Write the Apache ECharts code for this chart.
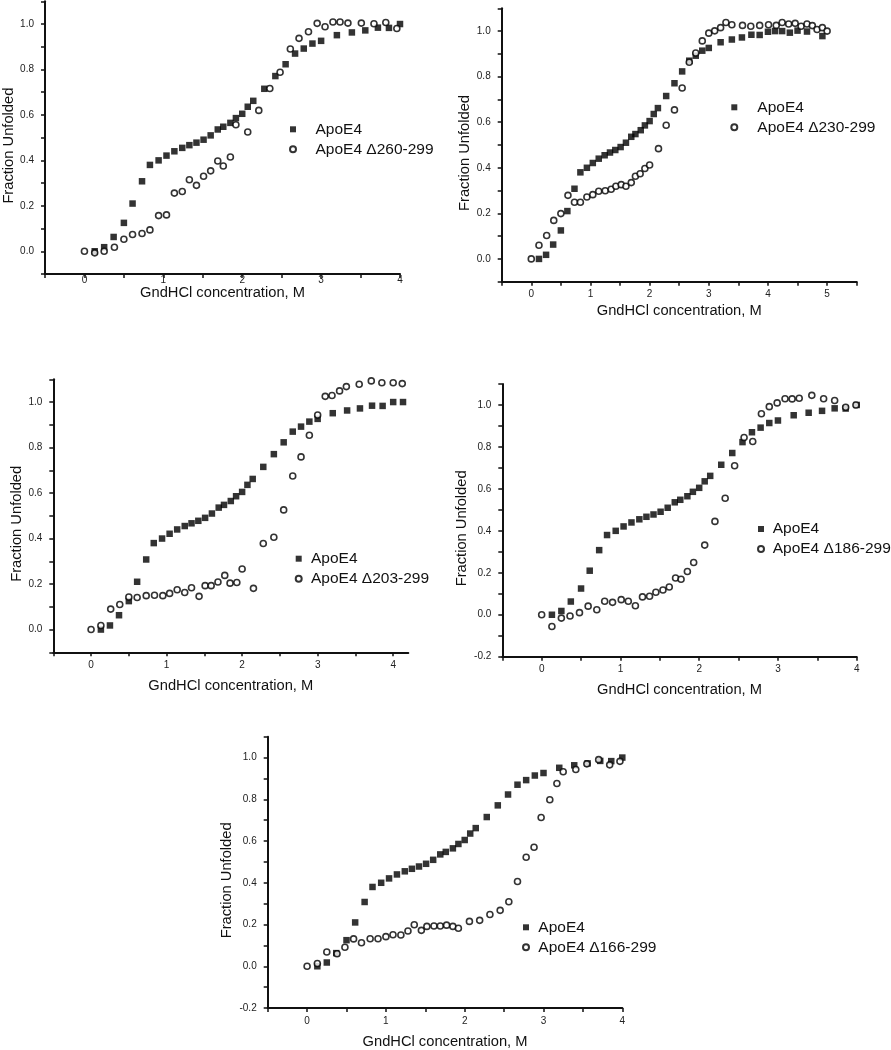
<!DOCTYPE html>
<html><head><meta charset="utf-8">
<script src="https://cdn.jsdelivr.net/npm/echarts@6/dist/echarts.min.js"></script>
<style>html,body{margin:0;padding:0;background:#fff}#c{width:891px;height:1050px}</style>
</head><body><div id="c"></div>
<script>
// ---------------- DATA ----------------
const xTitle = 'GndHCl concentration, M';
const yTitle = 'Fraction Unfolded';
const wtName = 'ApoE4';
const mutNames = ['ApoE4 \u0394260-299', 'ApoE4 \u0394230-299', 'ApoE4 \u0394203-299', 'ApoE4 \u0394186-299', 'ApoE4 \u0394166-299'];

// ApoE4 (full length) - common curve
const apoE4X = [0.13,0.25,0.37,0.50,0.61,0.73,0.83,0.94,1.04,1.14,1.24,1.33,1.42,1.51,1.60,1.69,1.76,1.85,1.92,2.00,2.07,2.14,2.28,2.42,2.55,2.67,2.78,2.89,3.00,3.20,3.39,3.56,3.72,3.86,4.00];
const apoE4Y = [0.000,0.018,0.063,0.125,0.210,0.308,0.380,0.400,0.421,0.440,0.455,0.467,0.478,0.491,0.510,0.536,0.548,0.565,0.586,0.605,0.636,0.662,0.715,0.771,0.823,0.870,0.892,0.914,0.926,0.951,0.963,0.972,0.984,0.983,1.000];
// ApoE4 in panel B (extended to 5 M)
const apoE4X_B = [0.13,0.25,0.37,0.50,0.61,0.73,0.83,0.94,1.04,1.14,1.24,1.33,1.42,1.51,1.60,1.69,1.76,1.85,1.92,2.00,2.07,2.14,2.28,2.42,2.55,2.67,2.78,2.89,3.00,3.20,3.39,3.56,3.72,3.86,4.00,4.12,4.24,4.37,4.50,4.66,4.92];
const apoE4Y_B = [0.000,0.018,0.063,0.125,0.210,0.308,0.380,0.400,0.421,0.440,0.455,0.467,0.478,0.491,0.510,0.536,0.548,0.565,0.586,0.605,0.636,0.662,0.715,0.771,0.823,0.870,0.892,0.914,0.926,0.951,0.963,0.972,0.984,0.983,0.997,1.000,1.000,0.993,1.002,0.998,0.978];
// ApoE4 in panel C (one extra point)
const apoE4X_C = [0.13,0.25,0.37,0.50,0.61,0.73,0.83,0.94,1.04,1.14,1.24,1.33,1.42,1.51,1.60,1.69,1.76,1.85,1.92,2.00,2.07,2.14,2.28,2.42,2.55,2.67,2.78,2.89,3.00,3.20,3.39,3.56,3.72,3.86,4.00,4.13];
const apoE4Y_C = [0.000,0.018,0.063,0.125,0.210,0.308,0.380,0.400,0.421,0.440,0.455,0.467,0.478,0.491,0.510,0.536,0.548,0.565,0.586,0.605,0.636,0.662,0.715,0.771,0.823,0.870,0.892,0.914,0.926,0.951,0.963,0.972,0.984,0.983,1.000,1.000];

// ApoE4 delta260-299
const mutAX = [0,0.13,0.25,0.38,0.50,0.61,0.73,0.83,0.94,1.04,1.14,1.24,1.33,1.42,1.51,1.60,1.69,1.76,1.85,1.92,2.07,2.21,2.35,2.48,2.61,2.72,2.84,2.95,3.05,3.15,3.24,3.34,3.51,3.67,3.82,3.96];
const mutAY = [0,-0.007,0,0.018,0.053,0.074,0.078,0.094,0.157,0.160,0.256,0.263,0.315,0.290,0.330,0.354,0.397,0.375,0.415,0.557,0.525,0.620,0.716,0.788,0.890,0.937,0.966,1.003,0.988,1.009,1.009,1.004,1.004,1.001,1.007,0.980];
// ApoE4 delta230-299
const mutBX = [0,0.13,0.26,0.38,0.50,0.62,0.73,0.83,0.94,1.04,1.14,1.25,1.35,1.43,1.52,1.60,1.69,1.76,1.84,1.92,2.00,2.15,2.28,2.42,2.55,2.67,2.78,2.89,3.00,3.10,3.20,3.29,3.39,3.57,3.71,3.86,4.01,4.14,4.24,4.35,4.46,4.56,4.66,4.75,4.83,4.92,5.00];
const mutBY = [0,0.060,0.103,0.169,0.199,0.279,0.249,0.249,0.272,0.282,0.297,0.299,0.306,0.319,0.326,0.319,0.335,0.363,0.374,0.397,0.412,0.484,0.587,0.654,0.750,0.863,0.904,0.957,0.991,1.001,1.015,1.038,1.028,1.025,1.021,1.025,1.028,1.025,1.038,1.031,1.034,1.021,1.031,1.024,1.007,1.015,1.000];
// ApoE4 delta203-299
const mutCX = [0,0.13,0.26,0.38,0.50,0.61,0.73,0.84,0.95,1.04,1.14,1.24,1.33,1.43,1.51,1.59,1.68,1.77,1.84,1.93,2.00,2.15,2.28,2.42,2.55,2.67,2.78,2.89,3.00,3.10,3.19,3.29,3.38,3.55,3.71,3.85,4.00,4.12];
const mutCY = [0,0.018,0.090,0.110,0.143,0.141,0.149,0.151,0.149,0.159,0.175,0.163,0.184,0.146,0.193,0.193,0.209,0.238,0.204,0.207,0.266,0.181,0.378,0.406,0.526,0.675,0.759,0.854,0.943,1.025,1.029,1.049,1.068,1.078,1.093,1.085,1.085,1.081];
// ApoE4 delta186-299
const mutDX = [0,0.13,0.25,0.36,0.48,0.59,0.70,0.80,0.90,1.01,1.10,1.19,1.28,1.37,1.45,1.54,1.62,1.70,1.77,1.85,1.93,2.07,2.20,2.33,2.45,2.57,2.68,2.79,2.89,2.99,3.09,3.18,3.27,3.43,3.58,3.72,3.86,3.99];
const mutDY = [0,-0.056,-0.016,-0.006,0.010,0.041,0.024,0.064,0.059,0.072,0.064,0.043,0.085,0.088,0.107,0.118,0.132,0.175,0.169,0.206,0.249,0.332,0.445,0.555,0.710,0.845,0.826,0.958,0.992,1.010,1.030,1.029,1.032,1.046,1.030,1.021,0.989,1.000];
// ApoE4 delta166-299
const mutEX = [0,0.13,0.25,0.38,0.48,0.59,0.69,0.80,0.90,1.00,1.09,1.19,1.28,1.36,1.45,1.52,1.61,1.69,1.77,1.85,1.92,2.06,2.19,2.32,2.45,2.56,2.67,2.78,2.88,2.97,3.08,3.17,3.25,3.41,3.55,3.70,3.84,3.97];
const mutEY = [0,0.013,0.068,0.060,0.091,0.131,0.113,0.132,0.132,0.142,0.151,0.150,0.169,0.199,0.172,0.191,0.193,0.193,0.197,0.191,0.182,0.215,0.220,0.248,0.268,0.309,0.406,0.522,0.570,0.713,0.798,0.876,0.932,0.943,0.970,0.990,0.965,0.982];

// Tick values and labels
const xTicks4  = [-0.5,0,0.5,1,1.5,2,2.5,3,3.5,4];
const xTicks5  = [-0.5,0,0.5,1,1.5,2,2.5,3,3.5,4,4.5,5,5.5];
const xLabels4 = [0,1,2,3,4];
const xLabels5 = [0,1,2,3,4,5];
const yTicksA  = [-0.1,0,0.1,0.2,0.3,0.4,0.5,0.6,0.7,0.8,0.9,1.0,1.1];
const yTicksB  = [-0.2,-0.1,0,0.1,0.2,0.3,0.4,0.5,0.6,0.7,0.8,0.9,1.0,1.1];
const yLabelsA = [0,0.2,0.4,0.6,0.8,1.0];
const yLabelsB = [-0.2,0,0.2,0.4,0.6,0.8,1.0];

// ---------------- LAYOUT ----------------
const FONT = "'Liberation Sans', Arial, Helvetica, sans-serif";
const zip = (xs, ys) => xs.map((x, i) => [x, ys[i]]);

const panels = [
  {grid:{left:45, top:1.3, width:355, height:272.7}, xMax:4, yMin:-0.1, xT:xTicks4, xL:xLabels4, yT:yTicksA, yL:yLabelsA,
   wt:zip(apoE4X, apoE4Y), mut:zip(mutAX, mutAY), name:mutNames[0], xMargin:1, xGap:9, yGap:29,
   legend:{left:289, top:119.3, pad:14.5}},
  {grid:{left:501.7, top:8.3, width:355, height:273.4}, xMax:5.5, yMin:-0.1, xT:xTicks5, xL:xLabels5, yT:yTicksA, yL:yLabelsA,
   wt:zip(apoE4X_B, apoE4Y_B), mut:zip(mutBX, mutBY), name:mutNames[1], xMargin:8, xGap:22, yGap:29,
   legend:{left:730.3, top:97.3, pad:15}},
  {grid:{left:53.3, top:379.3, width:355, height:273}, xMax:4.2, yMin:-0.1, xT:xTicks4, xL:xLabels4, yT:yTicksA, yL:yLabelsA,
   wt:zip(apoE4X_C, apoE4Y_C), mut:zip(mutCX, mutCY), name:mutNames[2], xMargin:8, xGap:26, yGap:29,
   legend:{left:294.7, top:548.7, pad:4.3}},
  {grid:{left:502.3, top:384, width:354.4, height:272.7}, xMax:4, yMin:-0.2, xT:xTicks4, xL:xLabels4, yT:yTicksB, yL:yLabelsB,
   wt:zip(apoE4X, apoE4Y), mut:zip(mutDX, mutDY), name:mutNames[3], xMargin:8, xGap:26, yGap:33,
   legend:{left:757, top:519, pad:3.7}},
  {grid:{left:267.7, top:736.7, width:354.6, height:272.3}, xMax:4, yMin:-0.2, xT:xTicks4, xL:xLabels4, yT:yTicksB, yL:yLabelsB,
   wt:zip(apoE4X, apoE4Y), mut:zip(mutEX, mutEY), name:mutNames[4], xMargin:8, xGap:26, yGap:33,
   legend:{left:522, top:917.3, pad:4.3}}
];

const axisLine = {show:true, onZero:false, lineStyle:{color:'#111', width:2}};
const tickStyle = {lineStyle:{color:'#111', width:1.5}, length:4, inside:false};
const labelStyle = {color:'#222', fontFamily:FONT, fontSize:10};
const nameStyle = {color:'#111', fontFamily:FONT, fontSize:14.7};

const option = {
  animation:false,
  backgroundColor:'#fff',
  grid:[], xAxis:[], yAxis:[], series:[], legend:[]
};

panels.forEach((p, i) => {
  option.grid.push(Object.assign({containLabel:false}, p.grid));
  option.xAxis.push({
    type:'value', gridIndex:i, min:-0.5, max:p.xMax,
    axisLine:axisLine, splitLine:{show:false},
    axisTick:Object.assign({show:true, customValues:p.xT}, tickStyle),
    axisLabel:Object.assign({show:true, customValues:p.xL, margin:p.xMargin,
      formatter:v => String(Math.round(v))}, labelStyle),
    name:xTitle, nameLocation:'middle', nameGap:p.xGap, nameTextStyle:nameStyle
  });
  option.yAxis.push({
    type:'value', gridIndex:i, min:p.yMin, max:1.1,
    axisLine:axisLine, splitLine:{show:false},
    axisTick:Object.assign({show:true, customValues:p.yT}, tickStyle),
    axisLabel:Object.assign({show:true, customValues:p.yL, margin:11,
      formatter:v => (Math.round(v*10)/10).toFixed(1)}, labelStyle),
    name:yTitle, nameLocation:'middle', nameGap:p.yGap,
    nameTextStyle:Object.assign({padding:[0,16,0,0]}, nameStyle)
  });
  option.series.push({
    type:'scatter', name:wtName, xAxisIndex:i, yAxisIndex:i, data:p.wt,
    symbol:'rect', symbolSize:6.5, itemStyle:{color:'#000'}, z:2
  });
  option.series.push({
    type:'scatter', name:p.name, xAxisIndex:i, yAxisIndex:i, data:p.mut,
    symbol:'circle', symbolSize:6, itemStyle:{color:'#fff', borderColor:'#000', borderWidth:1.6}, z:3
  });
  option.legend.push({
    left:p.legend.left, top:p.legend.top, orient:'vertical', itemGap:0, padding:0,
    itemWidth:6, itemHeight:6, selectedMode:false,
    data:[{name:wtName, icon:'rect'}, {name:p.name, icon:'circle'}],
    formatter:n => '{t|' + n + '}',
    textStyle:{color:'#111', fontFamily:FONT, fontSize:15.5, lineHeight:20,
      rich:{t:{padding:[0,0,0,p.legend.pad], fontFamily:FONT, fontSize:15.5, lineHeight:20, color:'#111'}}}
  });
});

const chart = echarts.init(document.getElementById('c'), null, {renderer:'canvas'});
chart.setOption(option);
</script>
</body></html>
